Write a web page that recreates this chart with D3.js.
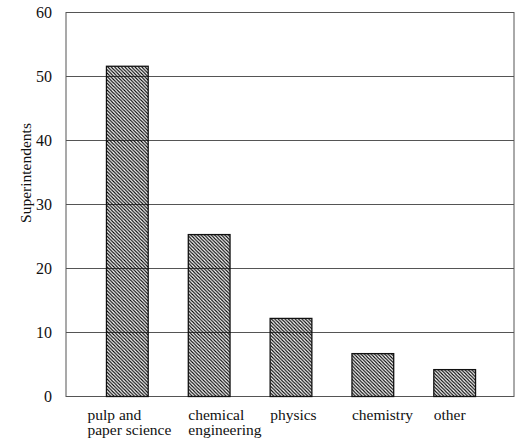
<!DOCTYPE html>
<html><head><meta charset="utf-8">
<script src="https://cdn.jsdelivr.net/npm/d3@7"></script>
</head><body style="margin:0;background:#fff">
<script>
const categories = [["pulp and","paper science"],["chemical","engineering"],["physics"],["chemistry"],["other"]];
const values = [51.6, 25.3, 12.2, 6.7, 4.2];
const yTicks = [0,10,20,30,40,50,60];
const yTitle = "Superintendents";

const W = 515, H = 438;
const m = {left:66, right:1, top:12.5, bottom:41.5};
const FF = '"Liberation Serif", "Times New Roman", Times, Tinos, serif';
const svg = d3.select("body").append("svg").attr("width",W).attr("height",H)
  .style("display","block").style("font-family",FF);

const defs = svg.append("defs");
const s = 3.4;
defs.append("pattern").attr("id","hatch").attr("patternUnits","userSpaceOnUse")
  .attr("width",s).attr("height",s)
  .append("path")
  .attr("d",`M-1,-1L${s+1},${s+1}M-1,${s-1}L1,${s+1}M${s-1},-1L${s+1},1`)
  .attr("stroke","#000").attr("stroke-width",1.1);

const x = d3.scaleBand().domain(d3.range(categories.length))
  .range([m.left+20, W-m.right-18]).paddingInner(0.49).paddingOuter(0.25);
const y = d3.scaleLinear().domain([0,60]).range([H-m.bottom, m.top]);

// gridlines
svg.append("g").selectAll("line").data(yTicks.filter(t=>t>0&&t<60)).join("line")
  .attr("x1",m.left).attr("x2",W-m.right)
  .attr("y1",d=>y(d)).attr("y2",d=>y(d))
  .attr("stroke","#555").attr("stroke-width",1);

// frame
svg.append("rect").attr("x",m.left).attr("y",y(60))
  .attr("width",W-m.right-m.left).attr("height",y(0)-y(60))
  .attr("fill","none").attr("stroke","#555").attr("stroke-width",1);

// y axis labels
const yAxis = d3.axisLeft(y).tickValues(yTicks).tickSize(0).tickPadding(14);
const ga = svg.append("g").attr("transform",`translate(${m.left},0)`).call(yAxis);
ga.select(".domain").remove();
ga.attr("font-family",null).attr("font-size",null);
ga.selectAll("text").style("font-family",FF).style("font-size","16px").attr("fill","#111");

// bars
svg.append("g").selectAll("rect").data(values).join("rect")
  .attr("x",(d,i)=>x(i)).attr("width",x.bandwidth())
  .attr("y",d=>y(d)).attr("height",d=>y(0)-y(d))
  .attr("fill","url(#hatch)").attr("stroke","#111").attr("stroke-width",1.3);

// x labels
const lab = svg.append("g").selectAll("text").data(categories).join("text")
  .style("font-family",FF).style("font-size","15.5px").attr("fill","#111")
  .attr("text-anchor","start")
  .attr("x",(d,i)=>x(i) - (i===0 ? 19 : 0))
  .attr("y",y(0)+23);
lab.selectAll("tspan").data(d=>d).join("tspan")
  .attr("x",function(){return d3.select(this.parentNode).attr("x");})
  .attr("dy",(d,i)=>i===0?0:15.5)
  .text(d=>d);

// y title
svg.append("text").attr("transform",`translate(31,173) rotate(-90)`)
  .attr("text-anchor","middle").style("font-family",FF).style("font-size","15.5px")
  .attr("fill","#111").text(yTitle);
</script>
</body></html>
